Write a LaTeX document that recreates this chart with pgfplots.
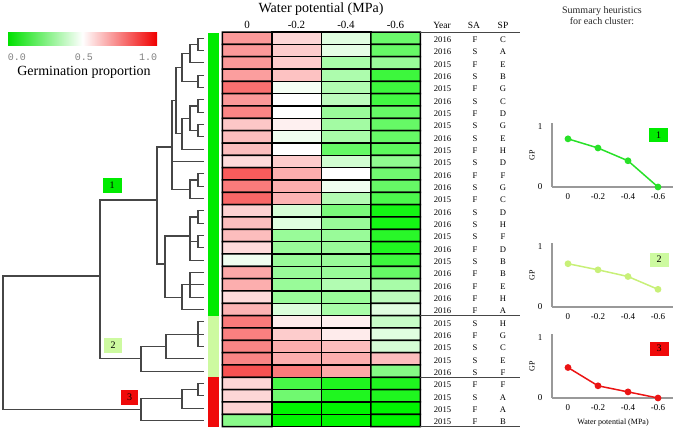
\documentclass[border=0pt]{standalone}
\usepackage{pgfplots}
\pgfplotsset{compat=1.18}
\usepackage{pgfplotstable}
\usepackage{fontspec}
\setmainfont{Liberation Serif}
\newfontfamily\monofont{Liberation Mono}

\definecolor{hmgreen}{RGB}{0,225,0}
\definecolor{hmred}{RGB}{240,0,0}
\definecolor{cla}{RGB}{0,235,0}
\definecolor{clb}{RGB}{205,250,160}
\definecolor{clc}{RGB}{240,10,10}
\definecolor{dendc}{RGB}{70,70,70}
\definecolor{pa}{RGB}{40,225,40}
\definecolor{pb}{RGB}{200,240,120}
\definecolor{pc}{RGB}{235,20,20}
\pgfplotsset{colormap={gwr}{rgb255=(0,245,0) rgb255=(255,255,255) rgb255=(245,0,0)}}

\pgfplotsset{
  dend/.style={draw=dendc, line width=1.2pt, mark=none},
  rowlab/.style={draw=none, mark=none, nodes near coords, point meta=explicit symbolic,
    nodes near coords style={anchor=center, inner sep=0pt, font=\fontsize{8.6}{9}\selectfont}},
  small/.style={scale only axis, width=121pt, height=64pt, anchor=south west,
    xmin=-0.533, xmax=3.5, ymin=0, ymax=1.05, axis lines=left,
    axis line style={-, draw=gray!80, line width=1.4pt},
    xtick={0,1,2,3}, xticklabels={0,-0.2,-0.4,-0.6}, ytick={0,1}, yticklabels={0,1},
    major tick length=0pt, tick label style={font=\fontsize{9}{10}\selectfont},
    xticklabel style={yshift=-3pt}, yticklabel style={xshift=-6pt},
    ylabel={GP}, ylabel style={at={(axis description cs:-0.165,0.5)}, anchor=center,
      font=\fontsize{8}{9}\selectfont}, clip=false}
}
\tikzset{boxlab/.style={inner sep=0pt, minimum width=19pt, minimum height=15pt, font=\fontsize{10}{11}\selectfont}}

% row labels: y position of each heatmap row, year, seed age, species
\pgfplotstableread{
y year sa sp
38.2 2016 F C
50.5 2016 S A
62.8 2015 F E
75.2 2016 S B
87.5 2015 F G
99.8 2016 S C
112.1 2015 F D
124.5 2015 S G
136.8 2016 S E
149.2 2015 F H
161.5 2015 S D
173.8 2016 F F
186.1 2016 S G
198.5 2015 F C
210.8 2016 S D
223.1 2016 S H
235.5 2015 S F
247.8 2016 F D
260.1 2015 S B
272.5 2016 F B
284.8 2016 F E
297.1 2016 F H
309.4 2016 F A
321.8 2015 S H
334.1 2016 F G
346.4 2015 S C
358.8 2015 S E
371.1 2016 S F
383.4 2015 F F
395.7 2015 S A
408.1 2015 F A
420.4 2015 F B
}\rowtab

\begin{document}
\begin{tikzpicture}
\useasboundingbox (0,0) rectangle (685pt,434pt);
\begin{axis}[name=main, at={(0,0)}, anchor=south west, scale only axis,
  width=685pt, height=434pt, xmin=0, xmax=685, ymin=0, ymax=434, y dir=reverse,
  hide axis, clip=false, colormap name=gwr, point meta min=0, point meta max=1]

% heatmap
\addplot[matrix plot*, shader=faceted, faceted color=black, line width=1.5pt,
  mesh/cols=4, point meta=explicit] coordinates {
(247,38.2)[0.70] (296.5,38.2)[0.58] (346,38.2)[0.44] (395.5,38.2)[0.21]
(247,50.5)[0.70] (296.5,50.5)[0.60] (346,50.5)[0.45] (395.5,50.5)[0.20]
(247,62.8)[0.70] (296.5,62.8)[0.60] (346,62.8)[0.33] (395.5,62.8)[0.30]
(247,75.2)[0.69] (296.5,75.2)[0.62] (346,75.2)[0.34] (395.5,75.2)[0.12]
(247,87.5)[0.78] (296.5,87.5)[0.48] (346,87.5)[0.35] (395.5,87.5)[0.12]
(247,99.8)[0.70] (296.5,99.8)[0.50] (346,99.8)[0.37] (395.5,99.8)[0.13]
(247,112.1)[0.74] (296.5,112.1)[0.50] (346,112.1)[0.30] (395.5,112.1)[0.20]
(247,124.5)[0.61] (296.5,124.5)[0.53] (346,124.5)[0.32] (395.5,124.5)[0.20]
(247,136.8)[0.63] (296.5,136.8)[0.47] (346,136.8)[0.33] (395.5,136.8)[0.20]
(247,149.2)[0.63] (296.5,149.2)[0.50] (346,149.2)[0.20] (395.5,149.2)[0.18]
(247,161.5)[0.57] (296.5,161.5)[0.60] (346,161.5)[0.41] (395.5,161.5)[0.28]
(247,173.8)[0.82] (296.5,173.8)[0.66] (346,173.8)[0.50] (395.5,173.8)[0.22]
(247,186.1)[0.76] (296.5,186.1)[0.66] (346,186.1)[0.47] (395.5,186.1)[0.20]
(247,198.5)[0.80] (296.5,198.5)[0.65] (346,198.5)[0.35] (395.5,198.5)[0.15]
(247,210.8)[0.59] (296.5,210.8)[0.42] (346,210.8)[0.24] (395.5,210.8)[0.04]
(247,223.1)[0.63] (296.5,223.1)[0.44] (346,223.1)[0.30] (395.5,223.1)[0.04]
(247,235.5)[0.63] (296.5,235.5)[0.30] (346,235.5)[0.30] (395.5,235.5)[0.08]
(247,247.8)[0.57] (296.5,247.8)[0.30] (346,247.8)[0.30] (395.5,247.8)[0.06]
(247,260.1)[0.47] (296.5,260.1)[0.30] (346,260.1)[0.30] (395.5,260.1)[0.12]
(247,272.5)[0.67] (296.5,272.5)[0.30] (346,272.5)[0.30] (395.5,272.5)[0.20]
(247,284.8)[0.66] (296.5,284.8)[0.30] (346,284.8)[0.35] (395.5,284.8)[0.33]
(247,297.1)[0.57] (296.5,297.1)[0.30] (346,297.1)[0.30] (395.5,297.1)[0.37]
(247,309.4)[0.65] (296.5,309.4)[0.43] (346,309.4)[0.33] (395.5,309.4)[0.44]
(247,321.8)[0.76] (296.5,321.8)[0.54] (346,321.8)[0.53] (395.5,321.8)[0.39]
(247,334.1)[0.75] (296.5,334.1)[0.60] (346,334.1)[0.54] (395.5,334.1)[0.44]
(247,346.4)[0.74] (296.5,346.4)[0.66] (346,346.4)[0.63] (395.5,346.4)[0.42]
(247,358.8)[0.74] (296.5,358.8)[0.66] (346,358.8)[0.66] (395.5,358.8)[0.63]
(247,371.1)[0.84] (296.5,371.1)[0.76] (346,371.1)[0.67] (395.5,371.1)[0.26]
(247,383.4)[0.58] (296.5,383.4)[0.14] (346,383.4)[0.06] (395.5,383.4)[0.06]
(247,395.7)[0.58] (296.5,395.7)[0.22] (346,395.7)[0.06] (395.5,395.7)[0.06]
(247,408.1)[0.59] (296.5,408.1)[0.00] (346,408.1)[0.00] (395.5,408.1)[0.00]
(247,420.4)[0.27] (296.5,420.4)[0.00] (346,420.4)[0.00] (395.5,420.4)[0.00]
};

% cluster colour strip
\addplot[fill=cla, draw=none] coordinates {(208,32.5)(219,32.5)(219,315.6)(208,315.6)} -- cycle;
\addplot[fill=clb, draw=none] coordinates {(208,315.6)(219,315.6)(219,377.2)(208,377.2)} -- cycle;
\addplot[fill=clc, draw=none] coordinates {(208,377.2)(219,377.2)(219,426.8)(208,426.8)} -- cycle;

% dendrogram
\addplot[dend] coordinates {(204,38.2)(198,38.2)(198,50.5)(204,50.5)};
\addplot[dend] coordinates {(198,44.35)(190,44.35)(190,62.8)(204,62.8)};
\addplot[dend] coordinates {(204,75.2)(198,75.2)(198,87.5)(204,87.5)};
\addplot[dend] coordinates {(190,53.6)(182,53.6)(182,81.35)(198,81.35)};
\addplot[dend] coordinates {(204,99.8)(198,99.8)(198,112.1)(204,112.1)};
\addplot[dend] coordinates {(204,124.5)(198,124.5)(198,136.8)(204,136.8)};
\addplot[dend] coordinates {(198,106)(190,106)(190,130.6)(198,130.6)};
\addplot[dend] coordinates {(190,118.3)(182,118.3)(182,149.2)(204,149.2)};
\addplot[dend] coordinates {(182,67.5)(176,67.5)(176,133.7)(182,133.7)};
\addplot[dend] coordinates {(204,173.8)(198,173.8)(198,186.1)(204,186.1)};
\addplot[dend] coordinates {(198,180)(190,180)(190,198.5)(204,198.5)};
\addplot[dend] coordinates {(176,100.6)(172,100.6)(172,189.2)(190,189.2)};
\addplot[dend] coordinates {(172,161.5)(204,161.5)};
\addplot[dend] coordinates {(204,210.8)(198,210.8)(198,223.1)(204,223.1)};
\addplot[dend] coordinates {(204,235.5)(198,235.5)(198,247.8)(204,247.8)};
\addplot[dend] coordinates {(198,217)(190,217)(190,260.1)(204,260.1)};
\addplot[dend] coordinates {(190,241.6)(198,241.6)};
\addplot[dend] coordinates {(204,272.5)(190,272.5)(190,297.1)(204,297.1)};
\addplot[dend] coordinates {(190,284.8)(204,284.8)};
\addplot[dend] coordinates {(190,284.8)(182,284.8)(182,309.4)(204,309.4)};
\addplot[dend] coordinates {(190,236)(165,236)(165,297.1)(182,297.1)};
\addplot[dend] coordinates {(172,147)(157,147)(157,264)(165,264)};
\addplot[dend] coordinates {(204,321.8)(198,321.8)(198,346.4)(204,346.4)};
\addplot[dend] coordinates {(198,334.1)(204,334.1)};
\addplot[dend] coordinates {(198,334.1)(166,334.1)(166,358.8)(204,358.8)};
\addplot[dend] coordinates {(166,346.4)(141,346.4)(141,371.1)(204,371.1)};
\addplot[dend] coordinates {(157,200)(100,200)(100,358.8)(141,358.8)};
\addplot[dend] coordinates {(204,383.4)(198,383.4)(198,395.7)(204,395.7)};
\addplot[dend] coordinates {(198,389.5)(182,389.5)(182,408.1)(204,408.1)};
\addplot[dend] coordinates {(182,398.8)(141,398.8)(141,420.4)(204,420.4)};
\addplot[dend] coordinates {(100,276)(3,276)(3,409.6)(141,409.6)};

% table rules
\addplot[draw=dendc, line width=1.2pt] coordinates {(420,32.5)(520,32.5)};
\addplot[draw=dendc, line width=1.2pt] coordinates {(420,315.6)(520,315.6)};
\addplot[draw=dendc, line width=1.2pt] coordinates {(420,377.2)(520,377.2)};
\addplot[draw=dendc, line width=1.2pt] coordinates {(420,426.8)(520,426.8)};

% row labels
\addplot[rowlab] table[x expr=442.5, y expr=\thisrow{y}+1.5, meta=year] {\rowtab};
\addplot[rowlab] table[x expr=475, y expr=\thisrow{y}+1.5, meta=sa] {\rowtab};
\addplot[rowlab] table[x expr=503, y expr=\thisrow{y}+1.5, meta=sp] {\rowtab};

% headers
\node[font=\fontsize{14}{16}\selectfont] at (axis cs:321,9) {Water potential (MPa)};
\node[font=\fontsize{11}{12}\selectfont] at (axis cs:247,25) {0};
\node[font=\fontsize{11}{12}\selectfont] at (axis cs:296.5,25) {-0.2};
\node[font=\fontsize{11}{12}\selectfont] at (axis cs:346,25) {-0.4};
\node[font=\fontsize{11}{12}\selectfont] at (axis cs:395.5,25) {-0.6};
\node[font=\fontsize{9.5}{10}\selectfont] at (axis cs:442,25) {Year};
\node[font=\fontsize{9.5}{10}\selectfont] at (axis cs:474,25) {SA};
\node[font=\fontsize{9.5}{10}\selectfont] at (axis cs:503,25) {SP};

% colour key
\shade[left color=hmgreen, right color=hmred, middle color=white] (axis cs:8,32.5) rectangle (axis cs:157,45);
\node[font=\monofont\fontsize{10}{11}\selectfont, text=gray] at (axis cs:17,57) {0.0};
\node[font=\monofont\fontsize{10}{11}\selectfont, text=gray] at (axis cs:84,57) {0.5};
\node[font=\monofont\fontsize{10}{11}\selectfont, text=gray] at (axis cs:148,57) {1.0};
\node[font=\fontsize{14}{16}\selectfont] at (axis cs:84,72) {Germination proportion};

% cluster tags on the dendrogram
\node[boxlab, fill=cla] at (axis cs:112,185) {1};
\node[boxlab, fill=clb, minimum width=18pt] at (axis cs:113,345.5) {2};
\node[boxlab, fill=clc, minimum width=17pt] at (axis cs:129.5,397) {3};

% right-hand titles and tags
\node[font=\fontsize{10}{11}\selectfont, text=black!85, align=center] at (axis cs:602,16) {Summary heuristics\\for each cluster:};
\node[boxlab, fill=cla, minimum height=14pt] at (axis cs:658.5,135) {1};
\node[boxlab, fill=clb, minimum height=14pt] at (axis cs:659,259.5) {2};
\node[boxlab, fill=clc, minimum height=14pt] at (axis cs:659,348.5) {3};
\node[font=\fontsize{8}{9}\selectfont] at (axis cs:613,423) {Water potential (MPa)};
\end{axis}

\begin{axis}[small, at={(552pt,247pt)}]
\addplot[color=pa, line width=1.5pt, mark=*, mark size=2.6pt] coordinates {(0,0.79)(1,0.64)(2,0.43)(3,0)};
\end{axis}
\begin{axis}[small, at={(552pt,127pt)}]
\addplot[color=pb, line width=1.5pt, mark=*, mark size=2.6pt] coordinates {(0,0.71)(1,0.61)(2,0.50)(3,0.29)};
\end{axis}
\begin{axis}[small, at={(552pt,36pt)}]
\addplot[color=pc, line width=1.5pt, mark=*, mark size=2.6pt] coordinates {(0,0.50)(1,0.20)(2,0.10)(3,0)};
\end{axis}
\end{tikzpicture}
\end{document}
